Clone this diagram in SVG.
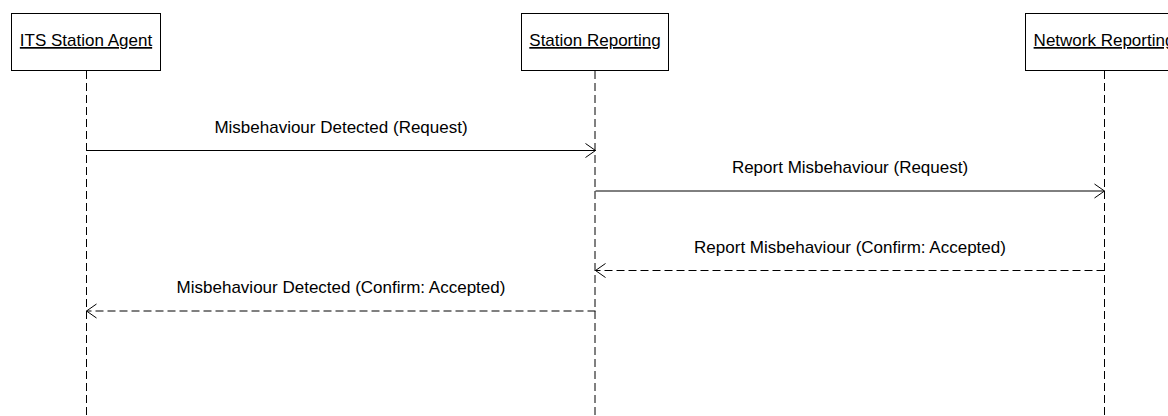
<svg xmlns="http://www.w3.org/2000/svg" width="1168" height="416" viewBox="0 0 1168 416">
  <defs>
    <style>
      .box { fill: #ffffff; stroke: #000000; stroke-width: 1; }
      .name { font-family: "Liberation Sans", Arial, sans-serif; font-size: 17px; fill: #000000; text-anchor: middle; text-decoration: underline; }
      .life { stroke: #000000; stroke-width: 1; stroke-dasharray: 8 4; fill: none; }
      .msg { stroke: #000000; stroke-width: 1; fill: none; }
      .reply { stroke: #000000; stroke-width: 1; stroke-dasharray: 8 4; fill: none; }
      .label { font-family: "Liberation Sans", Arial, sans-serif; font-size: 17px; fill: #000000; text-anchor: middle; }
    </style>
    <marker id="open" viewBox="0 0 12 16" refX="11" refY="8" markerWidth="12" markerHeight="16" markerUnits="userSpaceOnUse" orient="auto">
      <path d="M1,1 L11,8 L1,15" fill="none" stroke="#000000" stroke-width="1"/>
    </marker>
  </defs>

  <!-- lifelines -->
  <g id="lifelines">
    <line class="life" x1="86.5" y1="71" x2="86.5" y2="416"/>
    <line class="life" x1="595" y1="71" x2="595" y2="416"/>
    <line class="life" x1="1104.5" y1="71" x2="1104.5" y2="416"/>
  </g>

  <!-- participants -->
  <g id="its-station-agent">
    <rect class="box" x="11.5" y="13.5" width="149" height="57"/>
    <text class="name" x="86" y="46">ITS Station Agent</text>
  </g>
  <g id="station-reporting">
    <rect class="box" x="521.5" y="13.5" width="147" height="57"/>
    <text class="name" x="595" y="46">Station Reporting</text>
  </g>
  <g id="network-reporting">
    <rect class="box" x="1025.5" y="13.5" width="158" height="57"/>
    <text class="name" x="1104" y="46">Network Reporting</text>
  </g>

  <!-- messages -->
  <g id="connectors">
    <line class="msg" x1="86.5" y1="150.5" x2="595.5" y2="150.5" marker-end="url(#open)"/>
    <line class="msg" x1="595.5" y1="191" x2="1104.5" y2="191" marker-end="url(#open)"/>
    <line class="reply" x1="1104.5" y1="270.5" x2="595.5" y2="270.5" marker-end="url(#open)"/>
    <line class="reply" x1="595.5" y1="311" x2="86.5" y2="311" marker-end="url(#open)"/>
  </g>

  <g id="labels">
    <text class="label" x="341" y="133">Misbehaviour Detected (Request)</text>
    <text class="label" x="850" y="173">Report Misbehaviour (Request)</text>
    <text class="label" x="850" y="253">Report Misbehaviour (Confirm: Accepted)</text>
    <text class="label" x="341" y="293">Misbehaviour Detected (Confirm: Accepted)</text>
  </g>
</svg>
